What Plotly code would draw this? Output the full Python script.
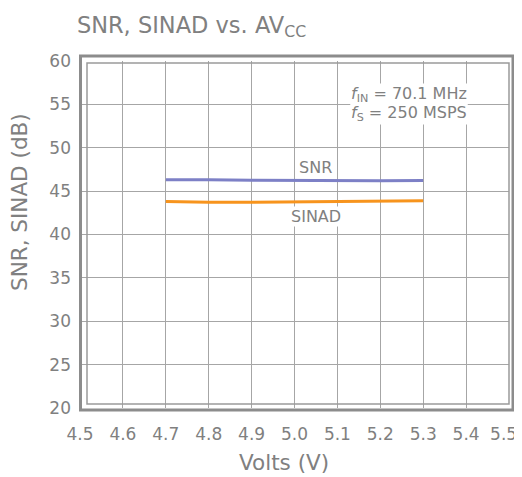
import plotly.graph_objects as go

volts = [4.7, 4.75, 4.8, 4.9, 5.0, 5.1, 5.2, 5.3]
snr = [46.32, 46.35, 46.3, 46.25, 46.22, 46.2, 46.2, 46.22]
sinad = [43.8, 43.75, 43.72, 43.72, 43.75, 43.78, 43.82, 43.88]
x_ticks = [4.5, 4.6, 4.7, 4.8, 4.9, 5.0, 5.1, 5.2, 5.3, 5.4, 5.5]
x_ticktext = ["4.5", "4.6", "4.7", "4.8", "4.9", "5.0", "5.1", "5.2", "5.3", "5.4", "5.5\u00a0\u00a0"]
y_ticks = [20, 25, 30, 35, 40, 45, 50, 55, 60]

FONT = "DejaVu Sans"
GRAY = "#808080"

fig = go.Figure()
fig.add_trace(go.Scatter(x=volts, y=snr, mode="lines", line=dict(color="#7d80c6", width=3), name="SNR"))
fig.add_trace(go.Scatter(x=volts, y=sinad, mode="lines", line=dict(color="#f7941d", width=3), name="SINAD"))

px = 1 / 429.0
py = 1 / 347.0
fig.add_shape(type="rect", xref="paper", yref="paper", x0=0.5 * px, x1=1 + 4 * px, y0=-2 * py, y1=1 + 5 * py,
              line=dict(color="#8c8c8c", width=3))
fig.add_shape(type="rect", xref="paper", yref="paper", x0=7 * px, x1=1 + 0 * px, y0=4 * py, y1=1 - 2 * py,
              line=dict(color="#9a9a9a", width=1.5))

ann_font = dict(family=FONT, size=16, color=GRAY)
fig.add_annotation(x=5.05, y=47.67, text="SNR", showarrow=False, bgcolor="white", font=ann_font, borderpad=0)
fig.add_annotation(x=5.05, y=42.13, text="SINAD", showarrow=False, bgcolor="white", font=ann_font, borderpad=0)
fig.add_annotation(x=5.268, y=56.1, text="<i>f</i><sub>IN</sub> = 70.1 MHz", showarrow=False, bgcolor="white",
                   font=ann_font, borderpad=0)
fig.add_annotation(x=5.268, y=54.0, text="<i>f</i><sub>S</sub> = 250 MSPS", showarrow=False, bgcolor="white",
                   font=ann_font, borderpad=0)

# axis titles
fig.add_annotation(x=0, y=0.5, xref="paper", yref="paper", xanchor="center", yanchor="middle",
                   xshift=-60.5, yshift=32, textangle=-90, text="SNR, SINAD (dB)", showarrow=False,
                   font=dict(family=FONT, size=21.5, color=GRAY))
fig.add_annotation(x=0.5, y=0, xref="paper", yref="paper", xanchor="center", yanchor="middle",
                   xshift=-11, yshift=-54, text="Volts (V)", showarrow=False,
                   font=dict(family=FONT, size=21.5, color=GRAY))

fig.update_layout(
    width=514, height=469,
    margin=dict(l=72, r=13, t=53, b=69, autoexpand=False),
    plot_bgcolor="white", paper_bgcolor="white",
    showlegend=False,
    font=dict(family=FONT, color=GRAY),
    title=dict(text="SNR, SINAD vs. AV<sub>CC</sub>", x=0.134, xanchor="left", y=0.964, yanchor="middle",
               font=dict(family=FONT, size=22.5, color=GRAY)),
    xaxis=dict(range=[4.5, 5.5], tickvals=x_ticks, ticktext=x_ticktext,
               showgrid=True, gridcolor="#a6a6a6", gridwidth=1, zeroline=False, showline=False,
               ticks="", tickfont=dict(size=17, color=GRAY), ticklabelstandoff=14,
               ticklabeloverflow="allow", automargin=False),
    yaxis=dict(range=[20, 60], tickvals=y_ticks, showgrid=True, gridcolor="#a6a6a6", gridwidth=1,
               zeroline=False, showline=False, ticks="", tickfont=dict(size=17, color=GRAY),
               ticklabelstandoff=8, automargin=False),
)

fig.write_html("out.html")
